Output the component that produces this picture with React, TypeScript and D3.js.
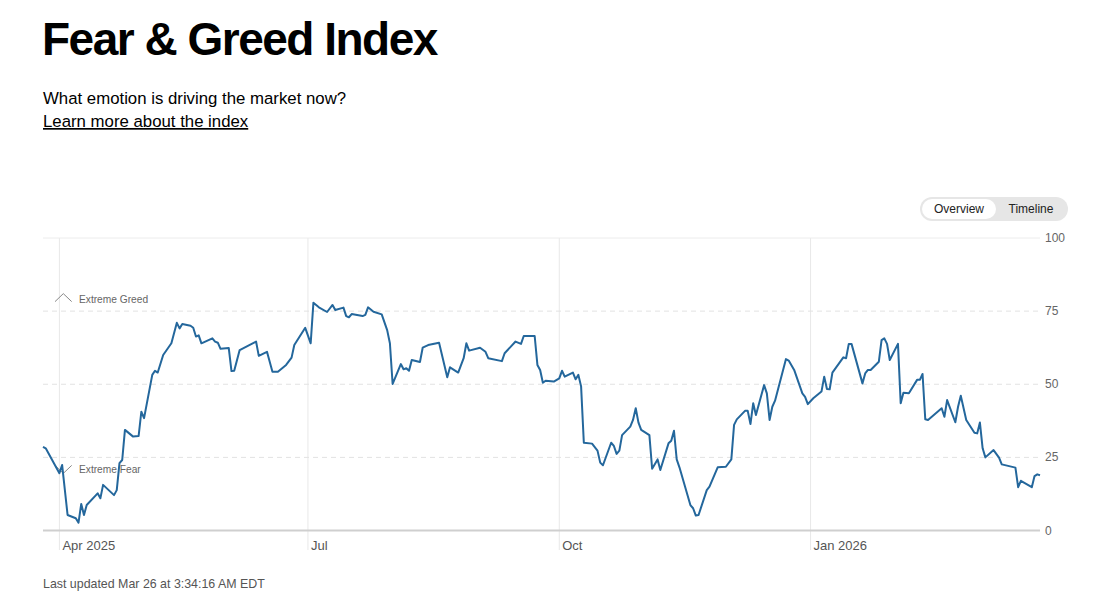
import React from "react";
import * as d3 from "d3";

const dates: string[] = [
  "2025-03-26","2025-03-27","2025-04-01","2025-04-02","2025-04-04","2025-04-07","2025-04-08","2025-04-09","2025-04-10","2025-04-11",
  "2025-04-15","2025-04-16","2025-04-17","2025-04-21","2025-04-22","2025-04-23","2025-04-24","2025-04-25","2025-04-28","2025-04-30",
  "2025-05-01","2025-05-02","2025-05-05","2025-05-06","2025-05-07","2025-05-09","2025-05-12","2025-05-14","2025-05-15","2025-05-16",
  "2025-05-19","2025-05-20","2025-05-21","2025-05-22","2025-05-23","2025-05-27","2025-05-28","2025-05-29","2025-05-30","2025-06-02",
  "2025-06-03","2025-06-04","2025-06-06","2025-06-12","2025-06-13","2025-06-16","2025-06-18","2025-06-20","2025-06-23","2025-06-25",
  "2025-06-26","2025-06-30","2025-07-02","2025-07-03","2025-07-05","2025-07-08","2025-07-10","2025-07-11","2025-07-14","2025-07-15",
  "2025-07-16","2025-07-17","2025-07-21","2025-07-22","2025-07-23","2025-07-25","2025-07-28","2025-07-30","2025-07-31","2025-08-01",
  "2025-08-04","2025-08-05","2025-08-06","2025-08-07","2025-08-08","2025-08-11","2025-08-12","2025-08-14","2025-08-18","2025-08-21",
  "2025-08-22","2025-08-25","2025-08-27","2025-08-28","2025-08-29","2025-09-02","2025-09-04","2025-09-05","2025-09-10","2025-09-11",
  "2025-09-15","2025-09-17","2025-09-18","2025-09-22","2025-09-23","2025-09-24","2025-09-25","2025-09-26","2025-09-29","2025-10-01",
  "2025-10-02","2025-10-03","2025-10-06","2025-10-07","2025-10-08","2025-10-09","2025-10-10","2025-10-13","2025-10-15","2025-10-16",
  "2025-10-17","2025-10-20","2025-10-21","2025-10-22","2025-10-23","2025-10-24","2025-10-27","2025-10-28","2025-10-29","2025-10-30",
  "2025-10-31","2025-11-03","2025-11-04","2025-11-06","2025-11-07","2025-11-10","2025-11-11","2025-11-12","2025-11-13","2025-11-14",
  "2025-11-18","2025-11-19","2025-11-20","2025-11-21","2025-11-24","2025-11-25","2025-11-28","2025-12-01","2025-12-03","2025-12-04",
  "2025-12-05","2025-12-08","2025-12-09","2025-12-10","2025-12-11","2025-12-12","2025-12-15","2025-12-16","2025-12-17","2025-12-18",
  "2025-12-19","2025-12-23","2025-12-24","2025-12-26","2025-12-29","2025-12-30","2025-12-31","2026-01-02","2026-01-05","2026-01-06",
  "2026-01-07","2026-01-08","2026-01-09","2026-01-13","2026-01-14","2026-01-15","2026-01-16","2026-01-20","2026-01-21","2026-01-22",
  "2026-01-23","2026-01-26","2026-01-27","2026-01-28","2026-01-29","2026-01-30","2026-02-02","2026-02-03","2026-02-04","2026-02-06",
  "2026-02-09","2026-02-10","2026-02-11","2026-02-12","2026-02-13","2026-02-18","2026-02-19","2026-02-20","2026-02-23","2026-02-24",
  "2026-02-25","2026-02-27","2026-03-02","2026-03-03","2026-03-04","2026-03-05","2026-03-06","2026-03-09","2026-03-11","2026-03-12",
  "2026-03-17","2026-03-18","2026-03-19","2026-03-23","2026-03-24","2026-03-25","2026-03-26",
];

const values: number[] = [
  28.6,28.1,19.6,22.4,5.3,4.2,2.7,9.1,5.3,8.7,
  12.7,11.0,15.6,12.1,13.8,23.0,24.1,34.4,32.1,32.3,
  40.6,38.4,53.2,54.6,54.0,60.0,64.0,71.0,69.1,70.6,
  70.0,69.3,66.3,66.7,64.0,65.7,64.6,64.2,62.1,62.4,
  54.5,54.6,61.7,64.6,59.7,61.1,54.3,54.3,56.6,59.1,
  63.4,69.3,64.0,77.9,76.3,74.7,77.1,75.4,76.2,73.3,
  72.9,74.0,73.3,73.7,76.3,74.8,73.9,68.5,64.0,50.1,
  56.9,55.1,55.5,54.6,58.3,57.6,62.5,63.4,64.2,52.4,
  55.8,54.0,58.9,64.0,61.5,62.5,61.1,58.9,57.9,60.6,
  64.6,63.8,66.5,66.5,56.6,54.9,50.5,51.2,50.9,52.0,
  54.6,52.6,54.0,51.7,53.2,49.2,30.0,29.7,27.3,23.2,
  22.3,30.0,28.9,26.2,27.3,32.6,35.5,37.8,41.8,36.9,
  34.4,32.6,21.1,24.3,20.7,29.8,30.7,34.1,24.3,21.6,
  8.7,7.6,5.1,5.3,13.8,15.0,21.6,21.8,24.3,36.1,
  38.0,40.9,40.9,36.4,43.5,39.5,49.7,46.9,37.8,42.3,
  44.4,58.6,58.1,54.9,46.9,45.7,43.2,45.2,47.5,52.6,
  48.4,48.3,54.0,59.2,58.9,63.8,63.8,50.3,53.7,54.9,
  54.9,57.7,65.1,65.7,63.8,58.3,63.8,43.5,47.1,46.9,
  51.5,51.5,53.5,38.0,37.8,41.8,38.9,44.6,37.0,42.3,
  46.1,37.8,33.4,33.2,36.9,28.1,25.0,27.5,24.9,22.6,
  21.5,14.8,17.0,14.8,18.6,19.2,18.9,
];

const yTicks: number[] = [0, 25, 50, 75, 100];
const xTickDates: string[] = ["2025-04-01", "2025-07-01", "2025-10-01", "2026-01-01"];
const xTickLabels: string[] = ["Apr 2025", "Jul", "Oct", "Jan 2026"];
const domainDates: string[] = ["2025-03-26", "2026-03-26"];
const zoneLabels: string[] = ["Extreme Greed", "Extreme Fear"];
const zoneLevels: number[] = [75, 25];

const parse = d3.timeParse("%Y-%m-%d");

export default function App() {
  const W = 1096, H = 600;
  const left = 43, right = 1040, top = 238, bottom = 530.5;
  const x = d3.scaleTime()
    .domain(domainDates.map((d) => parse(d) as Date))
    .range([left, right]);
  const y = d3.scaleLinear().domain([0, 100]).range([bottom, top]);
  const data = dates.map((d, i) => ({ date: parse(d) as Date, v: values[i] }));
  const line = d3.line<{ date: Date; v: number }>()
    .x((d) => x(d.date))
    .y((d) => y(d.v));
  const font = "'Liberation Sans', Arial, Helvetica, sans-serif";

  return (
    <svg width={W} height={H} style={{ position: "absolute", left: 0, top: 0, background: "#fff" }} fontFamily={font}>
      {/* header */}
      <text x={42} y={55} fontSize={46} fontWeight={700} letterSpacing={-1.5} fill="#000">Fear &amp; Greed Index</text>
      <text x={43} y={104} fontSize={16.8} fill="#000">What emotion is driving the market now?</text>
      <text x={43} y={127} fontSize={16.8} fill="#000" textDecoration="underline">Learn more about the index</text>

      {/* toggle */}
      <rect x={920} y={197} width={148} height={24} rx={12} fill="#e6e6e6" />
      <rect x={922} y={199} width={74} height={20} rx={10} fill="#fff" />
      <text x={959} y={213} fontSize={12} textAnchor="middle" fill="#222">Overview</text>
      <text x={1031} y={213} fontSize={12} textAnchor="middle" fill="#222">Timeline</text>

      {/* vertical month grid */}
      {xTickDates.map((d, i) => {
        const xx = x(parse(d) as Date);
        return (
          <g key={d}>
            <line x1={xx} x2={xx} y1={top} y2={550} stroke="#e8e8e8" strokeWidth={1} />
            <text x={xx + 3} y={550} fontSize={13} fill="#555">{xTickLabels[i]}</text>
          </g>
        );
      })}

      {/* horizontal grid */}
      {yTicks.map((t) => {
        const yy = y(t);
        const dashed = t !== 0 && t !== 100;
        return (
          <g key={t}>
            <line
              x1={left}
              x2={right}
              y1={yy}
              y2={yy}
              stroke={t === 0 ? "#cfcfcf" : t === 100 ? "#ececec" : "#e2e2e2"}
              strokeWidth={t === 0 ? 2 : 1}
              strokeDasharray={dashed ? "5 4" : undefined}
            />
            <text x={1045} y={yy + 4} fontSize={12} fill="#666">{t}</text>
          </g>
        );
      })}

      {/* zone markers */}
      {zoneLabels.map((lab, i) => {
        const up = zoneLevels[i] > 50;
        const base = up ? y(zoneLevels[i]) - 9.5 : y(zoneLevels[i]) + 8;
        const apex = up ? base - 8 : base + 8;
        return (
          <g key={lab}>
            <path d={`M55,${base} L63.3,${apex} L71.7,${base}`} fill="none" stroke="#888" strokeWidth={1} />
            <text x={79} y={up ? base + 1 : base + 8} fontSize={10.2} fill="#666">{lab}</text>
          </g>
        );
      })}

      {/* data line */}
      <path d={line(data) || ""} fill="none" stroke="#24679c" strokeWidth={2} strokeLinejoin="round" />

      {/* footer */}
      <text x={43} y={588} fontSize={12.4} fill="#555">Last updated Mar 26 at 3:34:16 AM EDT</text>
    </svg>
  );
}
